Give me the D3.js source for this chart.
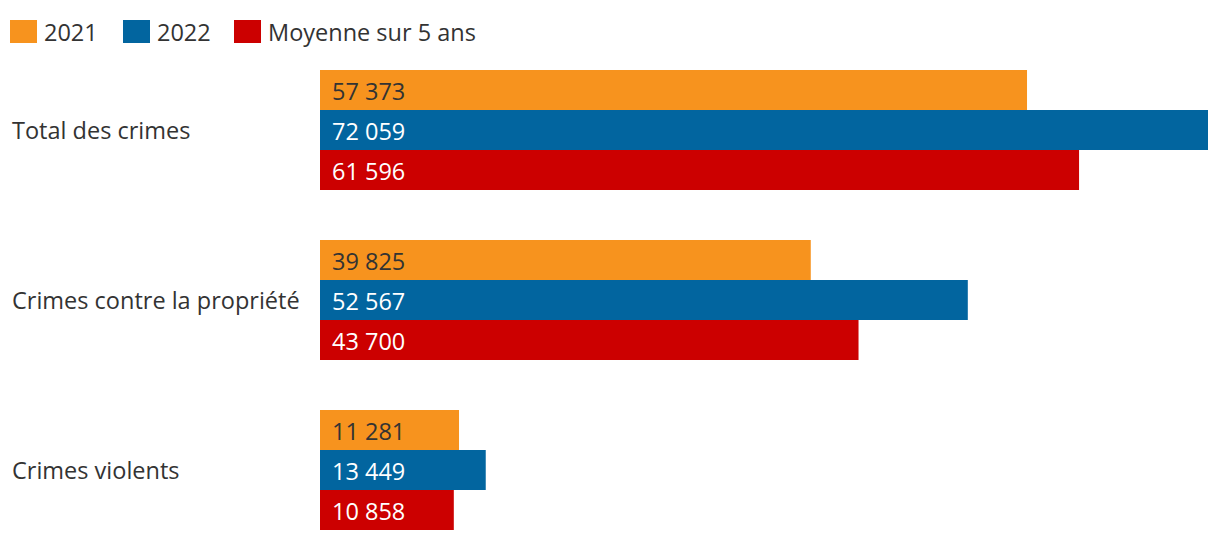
<!DOCTYPE html>
<html>
<head>
<meta charset="utf-8">
<script src="https://cdn.jsdelivr.net/npm/d3@7"></script>
<style>
  body { margin: 0; background: #fff; }
  svg text { font-family: "Open Sans", "Noto Sans", sans-serif; }
</style>
</head>
<body>
<div id="chart"></div>
<script>
var categories = ["Total des crimes", "Crimes contre la propriété", "Crimes violents"];
var seriesNames = ["2021", "2022", "Moyenne sur 5 ans"];
var values2021 = [57373, 39825, 11281];
var values2022 = [72059, 52567, 13449];
var valuesAvg = [61596, 43700, 10858];
var colors = ["#f7931e", "#02659f", "#cc0000"];
var labelColors = ["#333333", "#ffffff", "#ffffff"];

var width = 1220, height = 542;
var fs = 23.5;
var fmt = function(v) { return d3.format(",")(v).replace(/,/g, " "); };

var svg = d3.select("#chart").append("svg")
	.attr("width", width).attr("height", height);

// legend
var legendX = [10, 123, 234];
var legend = svg.append("g");
seriesNames.forEach(function(name, i) {
	legend.append("rect")
		.attr("x", legendX[i]).attr("y", 20)
		.attr("width", 27).attr("height", 23)
		.attr("fill", colors[i]);
	legend.append("text")
		.attr("x", legendX[i] + 34).attr("y", 41)
		.attr("font-size", fs)
		.attr("fill", "#333")
		.text(name);
});

var series = [values2021, values2022, valuesAvg];

var y0 = d3.scaleBand()
	.domain(categories)
	.range([70, 580])
	.paddingInner(0)
	.paddingOuter(0);

var y1 = d3.scaleBand()
	.domain(d3.range(series.length))
	.range([0, 120]);

var x = d3.scaleLinear()
	.domain([0, d3.max(values2022)])
	.range([320, 1208]);

var groups = svg.selectAll("g.cat")
	.data(categories)
	.enter().append("g")
	.attr("class", "cat")
	.attr("transform", function(d) { return "translate(0," + y0(d) + ")"; });

groups.append("text")
	.attr("x", 12)
	.attr("y", y1(1) + y1.bandwidth() / 2 + 9)
	.attr("font-size", fs)
	.attr("fill", "#333")
	.text(function(d) { return d; });

groups.each(function(cat, ci) {
	var g = d3.select(this);
	series.forEach(function(vals, si) {
		g.append("rect")
			.attr("x", x(0))
			.attr("y", y1(si))
			.attr("width", x(vals[ci]) - x(0))
			.attr("height", y1.bandwidth())
			.attr("fill", colors[si]);
		g.append("text")
			.attr("x", x(0) + 12)
			.attr("y", y1(si) + y1.bandwidth() / 2 + 10)
			.attr("font-size", fs)
			.attr("fill", labelColors[si])
			.text(fmt(vals[ci]));
	});
});
</script>
</body>
</html>
